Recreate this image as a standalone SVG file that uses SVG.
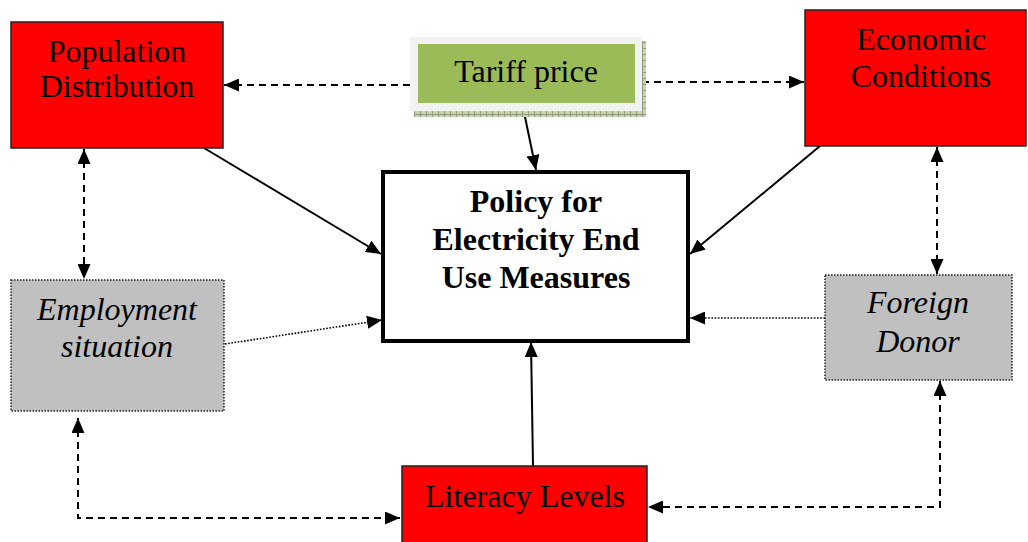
<svg xmlns="http://www.w3.org/2000/svg" width="1028" height="542" viewBox="0 0 1028 542">
<style>
.red{fill:#ff0000;stroke:#222;stroke-width:1.5}
.grey{fill:#c0c0c0;stroke:#222;stroke-width:1.5;stroke-dasharray:1.5 1.5}
.t{font-family:"Liberation Serif","Times New Roman",serif;font-size:32px;fill:#000;text-anchor:middle}
.i{font-style:italic}
.b{font-weight:bold}
.solid{fill:none;stroke:#000;stroke-width:2}
.dash{fill:none;stroke:#000;stroke-width:2;stroke-dasharray:7 5}
.dot{fill:none;stroke:#000;stroke-width:1.6;stroke-dasharray:1.6 1.6}
</style>
<defs>
<marker id="ah" viewBox="0 0 15 13" refX="15" refY="6.5" markerWidth="15" markerHeight="13" markerUnits="userSpaceOnUse" orient="auto-start-reverse">
<path d="M0,0 L15,6.5 L0,13 z" fill="#000"/>
</marker>
<pattern id="sh" width="6" height="6" patternUnits="userSpaceOnUse">
<rect width="6" height="6" fill="#c9d3b4"/>
<path d="M0,0.5H6M0.5,0V6" stroke="#8f9c78" stroke-width="1"/>
</pattern>
</defs>
<rect width="1028" height="542" fill="#fff"/>
<g id="connectors">
<line class="dash" x1="410" y1="85" x2="224" y2="85" marker-end="url(#ah)"/>
<line class="dash" x1="642" y1="82" x2="804" y2="82" marker-end="url(#ah)"/>
<line class="solid" x1="524" y1="112" x2="536" y2="170" marker-end="url(#ah)"/>
<line class="solid" x1="204" y1="148" x2="381" y2="254" marker-end="url(#ah)"/>
<line class="solid" x1="820" y1="146" x2="690" y2="254" marker-end="url(#ah)"/>
<line class="dash" x1="84" y1="149" x2="84" y2="279" marker-start="url(#ah)" marker-end="url(#ah)"/>
<line class="dash" x1="937" y1="147" x2="937" y2="274" marker-start="url(#ah)" marker-end="url(#ah)"/>
<line class="dot" x1="225" y1="344" x2="382" y2="320" marker-end="url(#ah)"/>
<line class="dot" x1="825" y1="318" x2="690" y2="318" marker-end="url(#ah)"/>
<line class="solid" x1="533" y1="466" x2="531" y2="342" marker-end="url(#ah)"/>
<polyline class="dash" points="78,418 78,518 400,518" marker-start="url(#ah)" marker-end="url(#ah)"/>
<polyline class="dash" points="940,381 940,507 648,507" marker-start="url(#ah)" marker-end="url(#ah)"/>
</g>
<g id="population">
<rect class="red" x="11" y="22" width="212" height="126"/>
<text class="t" x="117" y="62">Population</text>
<text class="t" x="117" y="97">Distribution</text>
</g>
<g id="tariff">
<rect x="414" y="41" width="232" height="76" fill="url(#sh)"/>
<rect x="410" y="37" width="232" height="74" fill="#f2f2f2"/>
<rect x="418" y="44" width="217" height="59" fill="#9bbb59"/>
<text class="t" x="526" y="82">Tariff price</text>
</g>
<g id="economic">
<rect class="red" x="805" y="10" width="221" height="136"/>
<text class="t" x="921" y="50">Economic</text>
<text class="t" x="921" y="87">Conditions</text>
</g>
<g id="policy">
<rect x="383" y="172" width="305" height="169" fill="#fff" stroke="#000" stroke-width="4"/>
<text class="t b" x="536" y="212">Policy for</text>
<text class="t b" x="536" y="250">Electricity End</text>
<text class="t b" x="536" y="288">Use Measures</text>
</g>
<g id="employment">
<rect class="grey" x="11" y="280" width="213" height="131"/>
<text class="t i" x="117" y="320">Employment</text>
<text class="t i" x="117" y="357">situation</text>
</g>
<g id="foreign">
<rect class="grey" x="825" y="275" width="187" height="105"/>
<text class="t i" x="918" y="313">Foreign</text>
<text class="t i" x="918" y="352">Donor</text>
</g>
<g id="literacy">
<rect class="red" x="402" y="466" width="245" height="80"/>
<text class="t" x="525" y="507">Literacy Levels</text>
</g>
</svg>
